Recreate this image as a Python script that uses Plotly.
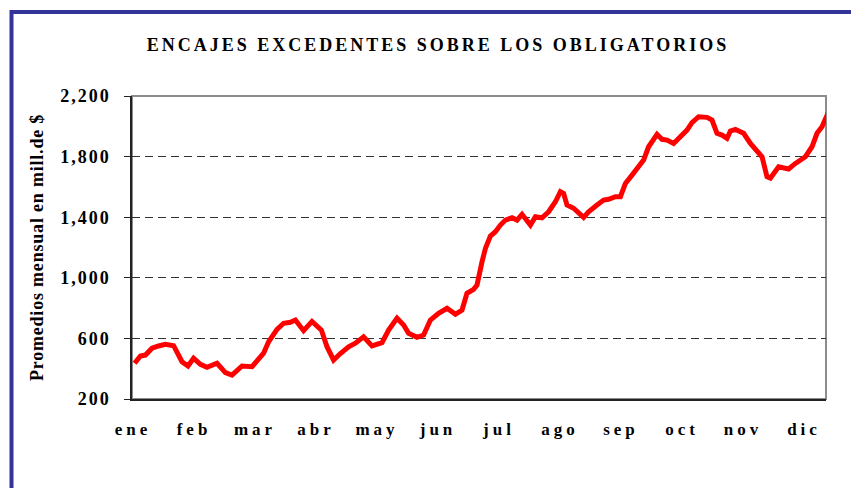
import plotly.graph_objects as go

# daily reserve series (day of year, mill. de $)
dias = [0.8, 3.7, 6.2, 9.5, 12.8, 16.2, 20.3, 24.5, 27.5, 30.3, 33.7, 37, 42, 46.2,
        49.5, 54.5, 59.5, 62, 65.3, 67.8, 72, 75.3, 78.7, 81.2, 85.3, 89.5, 94.2,
        97, 100.3, 103.7, 107.8, 111.2, 115.3, 119.5, 124.5, 127.8, 132, 135.3,
        137.8, 142, 145.3, 148.7, 152.8, 157, 161.2, 164.5, 167, 170.3, 172,
        174.5, 176.2, 178.7, 181.2, 183.7, 186.2, 189.5, 192, 194.5, 198.7,
        201.2, 204.5, 207.8, 211.2, 213.7, 215.3, 217, 220.3, 225.3, 227.8, 232,
        235.3, 237.8, 241.2, 243.7, 246.2, 249.5, 252.8, 255.3, 257.8, 262,
        264.5, 267, 270.3, 273.7, 277, 279.5, 282.8, 287, 289.5, 292, 294.5,
        297, 298.7, 301.2, 305.3, 308.7, 312, 314.5, 317, 318.7, 322.8, 327.8,
        331.2, 336.2, 339.5, 342, 344.5, 347.8]
encajes = [436, 484, 490, 535, 550, 561, 552, 446, 418, 469, 429, 409, 436, 374,
           358, 418, 413, 457, 502, 578, 660, 700, 706, 721, 651, 712, 655,
           545, 457, 500, 545, 568, 610, 550, 572, 655, 733, 688,
           634, 607, 622, 721, 766, 799, 759, 787, 898, 924, 952,
           1105, 1194, 1276, 1304, 1348, 1381, 1396, 1381, 1419, 1348,
           1403, 1396, 1436, 1502, 1568, 1557, 1480, 1459, 1399, 1436, 1480,
           1513, 1518, 1535, 1535, 1623, 1678, 1733, 1777, 1865, 1947,
           1914, 1909, 1887, 1931, 1975, 2024, 2063, 2059, 2041, 1954, 1942,
           1920, 1969, 1979, 1954, 1887, 1832, 1799, 1667, 1657, 1733, 1718,
           1755, 1799, 1865, 1954, 1997, 2096]

meses = ["ene", "feb", "mar", "abr", "may", "jun",
         "jul", "ago", "sep", "oct", "nov", "dic"]
inicio_mes = [0, 30.5, 61, 91.5, 122, 152.5, 183, 213.5, 244, 274.5, 305, 335.5]
y_ticks = [200, 600, 1000, 1400, 1800, 2200]
y_labels = ["200", "600", "1,000", "1,400", "1,800", "2,200"]

FONT = "Liberation Serif, Times New Roman, serif"
W, H = 859, 488
OFF = 8  # default body margin of the html page
# plot area in page pixels
L, R, T, B = 132, 826, 96, 399


def spaced(txt, px):
    return '<span style="letter-spacing:%spx">%s</span>' % (px, txt)


def px_to_paper(x, y):
    return (x - L) / (R - L), (B - y) / (B - T)


fig = go.Figure()
fig.add_trace(go.Scatter(
    x=dias, y=encajes, mode="lines",
    line=dict(color="#ff0000", width=5),
    hoverinfo="x+y", showlegend=False
))

# outer blue frame (only left/top visible in the picture)
bx0, by0 = px_to_paper(11.5, 520)
bx1, by1 = px_to_paper(890, 12)
fig.add_shape(type="rect", xref="paper", yref="paper", x0=bx0, y0=by0, x1=bx1, y1=by1,
              line=dict(color="#333399", width=4), layer="below")
# grey plot frame (top/right)
fig.add_shape(type="rect", xref="paper", yref="paper", x0=0, y0=0, x1=1, y1=1,
              line=dict(color="#8c8c8c", width=2), layer="below")

fig.update_layout(
    width=W, height=H,
    margin=dict(l=L - OFF, r=W - (R - OFF), t=T - OFF, b=H - (B - OFF)),
    paper_bgcolor="white", plot_bgcolor="white",
    font=dict(family=FONT, color="black"),
    title=dict(text="<b>" + spaced("ENCAJES EXCEDENTES SOBRE LOS OBLIGATORIOS", 3) + "</b>",
               x=px_to_paper(438, 0)[0], xref="paper", xanchor="center",
               y=1 - (45 - OFF) / H, yanchor="middle",
               font=dict(size=18, family=FONT, color="black")),
    xaxis=dict(range=[-0.5, 346.5], tickvals=inicio_mes,
               ticktext=["<b>" + spaced(m, 4) + "</b>" for m in meses],
               showgrid=False, zeroline=False, showline=True, linecolor="#222",
               linewidth=1.5, ticks="", ticklabelstandoff=14,
               tickfont=dict(size=17, family=FONT)),
    yaxis=dict(range=[200, 2200], tickvals=y_ticks,
               ticktext=["<b>" + spaced(t, 2) + "</b>" for t in y_labels],
               showgrid=True, gridcolor="#333", griddash="8px,5px", gridwidth=1,
               zeroline=False, showline=True, linecolor="#222", linewidth=1.5,
               ticks="outside", ticklen=6, tickcolor="#222", ticklabelstandoff=10,
               tickfont=dict(size=18, family=FONT),
               title=dict(text="<b>" + spaced("Promedios mensual en mill.de $", 0.8) + "</b>",
                          standoff=12, font=dict(size=18, family=FONT))),
)

fig.write_html("out.html")
